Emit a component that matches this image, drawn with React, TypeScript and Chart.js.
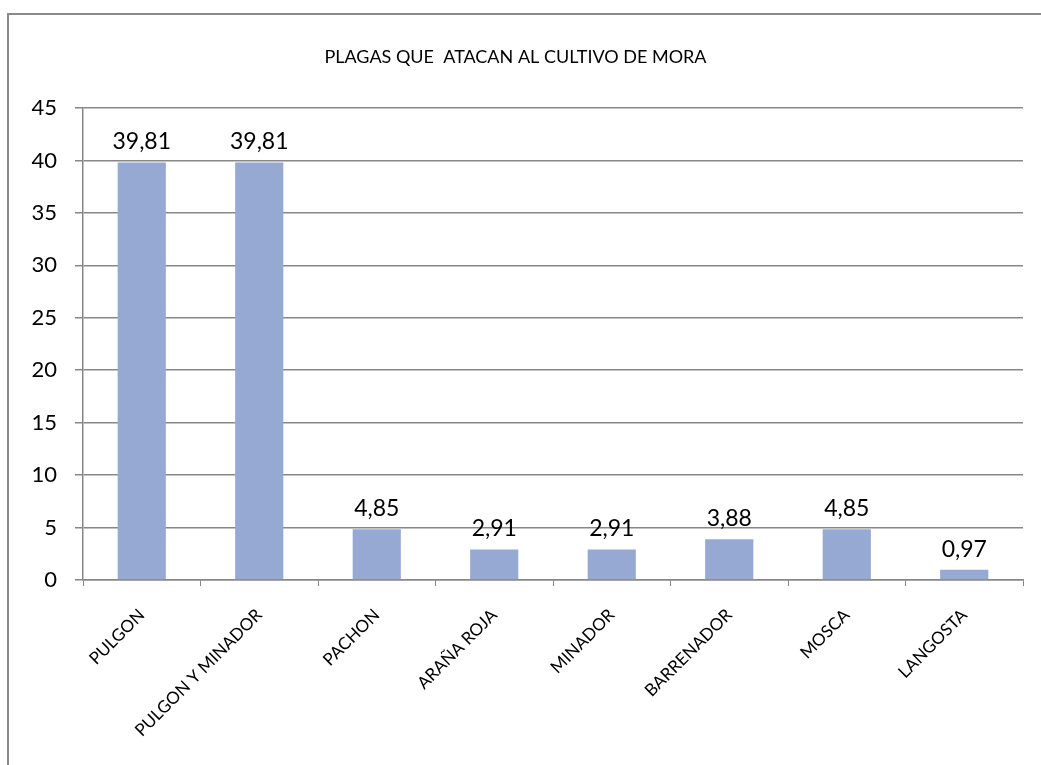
import React, { useEffect, useRef } from "react";
import { Chart, registerables } from "chart.js";

Chart.register(...registerables);

const TITLE = "PLAGAS QUE  ATACAN AL CULTIVO DE MORA";
const categories = [
  "PULGON",
  "PULGON Y MINADOR",
  "PACHON",
  "ARAÑA ROJA",
  "MINADOR",
  "BARRENADOR",
  "MOSCA",
  "LANGOSTA",
];
const values = [39.81, 39.81, 4.85, 2.91, 2.91, 3.88, 4.85, 0.97];
const yMin = 0;
const yMax = 45;
const yStep = 5;

const FONT = "Lato, 'Noto Sans', sans-serif";
const GRID = "#878787";
const BAR = "#95a9d3";

const fmt = (v: number) => v.toFixed(2).replace(".", ",");

const framePlugin = {
  id: "frame",
  beforeDraw(chart: any) {
    const { ctx } = chart;
    ctx.save();
    ctx.strokeStyle = "#8a8a8a";
    ctx.lineWidth = 2;
    ctx.strokeRect(8, 14, 1200, 1000);
    ctx.restore();
  },
};

const labelPlugin = {
  id: "valueLabels",
  afterDatasetsDraw(chart: any) {
    const { ctx } = chart;
    const meta = chart.getDatasetMeta(0);
    ctx.save();
    ctx.font = `23px ${FONT}`;
    ctx.fillStyle = "#000";
    ctx.textAlign = "center";
    ctx.textBaseline = "alphabetic";
    meta.data.forEach((el: any, i: number) => {
      ctx.fillText(fmt(values[i]), el.x, el.y - 13);
    });
    ctx.restore();
  },
};

export default function App() {
  const ref = useRef<HTMLCanvasElement | null>(null);
  useEffect(() => {
    if (!ref.current) return;
    const chart = new Chart(ref.current, {
      type: "bar",
      data: {
        labels: categories,
        datasets: [
          {
            data: values,
            backgroundColor: BAR,
            borderWidth: 0,
            barPercentage: 0.41,
            categoryPercentage: 1,
          },
        ],
      },
      options: {
        animation: false,
        responsive: false,
        maintainAspectRatio: false,
        layout: { padding: { left: 8, right: 18, top: 46, bottom: 0 } },
        plugins: {
          legend: { display: false },
          tooltip: { enabled: false },
          title: {
            display: true,
            text: TITLE,
            color: "#000",
            font: { family: FONT, size: 18, weight: "normal", lineHeight: 1.2 },
            padding: { top: 0, bottom: 108 - 46 - 21.6 },
          },
        },
        scales: {
          x: {
            afterFit(s: any) {
              s.height = 185;
            },
            grid: {
              display: true,
              drawOnChartArea: false,
              drawTicks: true,
              tickLength: 6,
              color: GRID,
              offset: true,
            },
            border: { display: true, color: GRID, width: 1.5 },
            ticks: {
              color: "#000",
              font: { family: FONT, size: 17 },
              maxRotation: 45,
              minRotation: 45,
              padding: 19,
              autoSkip: false,
            },
          },
          y: {
            min: yMin,
            max: yMax,
            afterFit(s: any) {
              s.width = 75;
            },
            grid: { color: GRID, lineWidth: 1.5, tickLength: 8 },
            border: { display: true, color: GRID, width: 1.5 },
            ticks: {
              stepSize: yStep,
              color: "#000",
              font: { family: FONT, size: 22 },
              padding: 18,
            },
          },
        },
      },
      plugins: [framePlugin, labelPlugin],
    });
    return () => chart.destroy();
  }, []);
  return (
    <div style={{ position: "fixed", left: 0, top: 0, width: 1041, height: 765, background: "#fff" }}>
      <canvas ref={ref} width={1041} height={765} style={{ display: "block" }} />
    </div>
  );
}
